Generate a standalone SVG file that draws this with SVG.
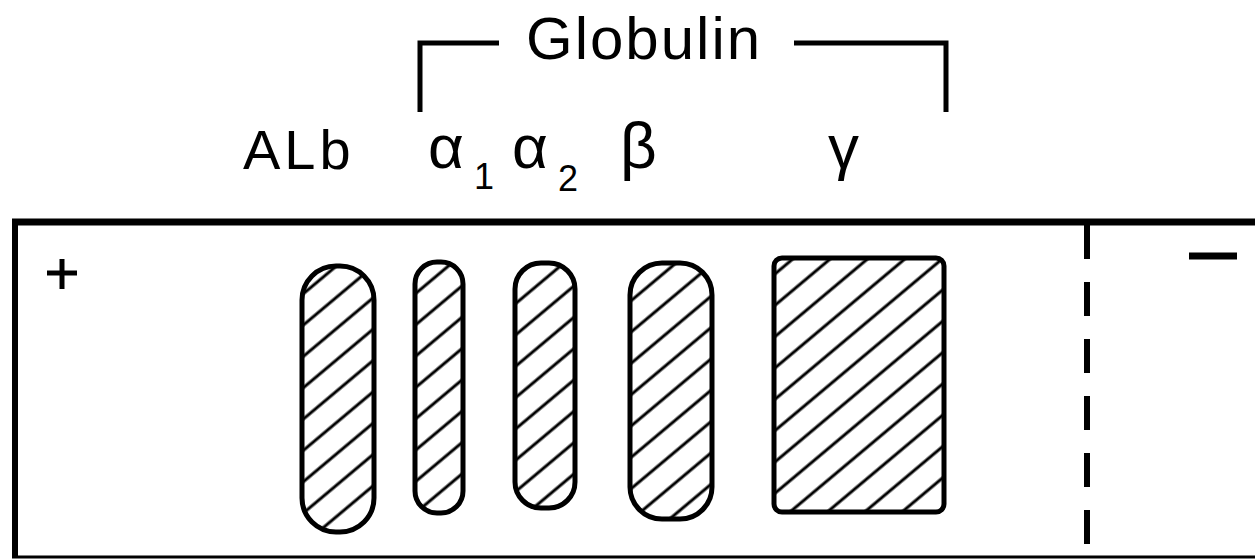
<svg xmlns="http://www.w3.org/2000/svg" width="1255" height="559" viewBox="0 0 1255 559">
<defs>
<style>
.t{font-family:"Liberation Sans",Arial,sans-serif;fill:#000}
.band{fill:url(#hatch);stroke:#000;stroke-width:5}
.ln{stroke:#000;fill:none;stroke-linecap:butt}
</style>
<pattern id="hatch" patternUnits="userSpaceOnUse" width="24" height="24" patternTransform="rotate(-40)">
<line x1="0" y1="12" x2="24" y2="12" stroke="#000" stroke-width="3"/>
</pattern>
</defs>
<rect width="1255" height="559" fill="#fff"/>
<g id="frame">
<line class="ln" x1="12" y1="222" x2="1255" y2="222" stroke-width="7"/>
<line class="ln" x1="15" y1="219" x2="15" y2="558" stroke-width="6"/>
<line class="ln" x1="12" y1="557" x2="1255" y2="557" stroke-width="3"/>
<line class="ln" x1="1087" y1="225" x2="1087" y2="552" stroke-width="6" stroke-dasharray="34 23"/>
</g>
<g id="plus">
<line class="ln" x1="47" y1="273" x2="77" y2="273" stroke-width="5"/>
<line class="ln" x1="62" y1="259" x2="62" y2="289" stroke-width="5"/>
</g>
<g id="minus">
<line class="ln" x1="1189" y1="256" x2="1237" y2="256" stroke-width="7"/>
</g>
<g id="bracket">
<polyline class="ln" points="420,112 420,43 499,43" stroke-width="5"/>
<polyline class="ln" points="794,43 946,43 946,112" stroke-width="5"/>
<text class="t" x="526" y="59" font-size="60" letter-spacing="2">Globulin</text>
</g>
<g id="labels">
<text class="t" x="243" y="169" font-size="56" letter-spacing="4">ALb</text>
<text class="t" x="428" y="168" font-size="62">α</text>
<text class="t" x="474" y="189" font-size="36">1</text>
<text class="t" x="512" y="168" font-size="62">α</text>
<text class="t" x="558" y="191" font-size="36">2</text>
<text class="t" x="620" y="168" font-size="64">β</text>
<text class="t" x="828" y="168" font-size="62">γ</text>
</g>
<g id="band-alb"><rect class="band" x="302" y="266" width="72" height="266" rx="34"/></g>
<g id="band-a1"><rect class="band" x="415" y="262" width="48" height="251" rx="22"/></g>
<g id="band-a2"><rect class="band" x="515" y="263" width="60" height="245" rx="26"/></g>
<g id="band-b"><rect class="band" x="630" y="263" width="82" height="256" rx="32"/></g>
<g id="band-g"><rect class="band" x="774" y="258" width="170" height="254" rx="8"/></g>
</svg>
